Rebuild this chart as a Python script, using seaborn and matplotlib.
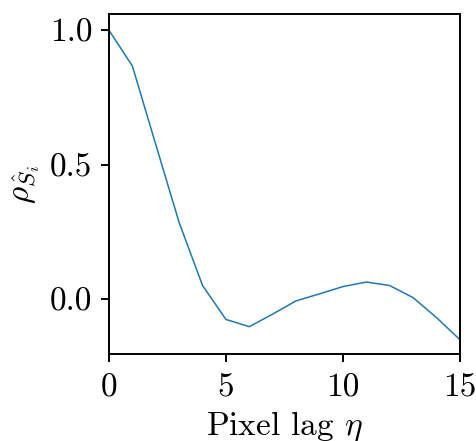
import matplotlib
matplotlib.use("Agg")
import matplotlib.pyplot as plt
import seaborn as sns
import pandas as pd

# Autocorrelation of the estimated signal versus pixel lag
lags = [0, 1, 2, 3, 4, 5, 6, 7, 8, 9, 10, 11, 12, 13, 14, 15]
rho = [1.0, 0.867, 0.575, 0.285, 0.051, -0.075, -0.102, -0.055, -0.006,
       0.020, 0.047, 0.064, 0.051, 0.006, -0.068, -0.150]
x_ticks = [0, 5, 10, 15]
y_ticks = [0.0, 0.5, 1.0]

sns.set_theme(style="ticks")
plt.rcParams.update({
    "font.family": "serif",
    "font.serif": ["cmr10"],
    "mathtext.fontset": "cm",
    "axes.formatter.use_mathtext": True,
    "axes.unicode_minus": False,
    "axes.linewidth": 1.4,
    "xtick.major.width": 1.4,
    "ytick.major.width": 1.4,
    "xtick.major.size": 5.8,
    "ytick.major.size": 5.8,
    "xtick.color": "black",
    "ytick.color": "black",
    "axes.edgecolor": "black",
    "text.color": "black",
    "axes.labelcolor": "black",
})

df = pd.DataFrame({"lag": lags, "rho": rho})

fig = plt.figure(figsize=(4.77, 4.41), dpi=100)
ax = fig.add_axes([0.2285, 0.197, 0.7355, 0.771])
sns.lineplot(data=df, x="lag", y="rho", ax=ax, color="#1f77b4", linewidth=1.1)

for s in ax.spines.values():
    s.set_visible(True)
    s.set_color("black")
    s.set_linewidth(1.4)

ax.set_xlim(0, 15)
ax.set_ylim(-0.204, 1.06)
ax.set_xticks(x_ticks)
ax.set_xticklabels([str(t) for t in x_ticks])
ax.set_yticks(y_ticks)
ax.set_yticklabels([f"{t:.1f}" for t in y_ticks])
ax.tick_params(axis="both", labelsize=24, colors="black")
ax.tick_params(axis="x", pad=8)
ax.tick_params(axis="y", pad=6)
ax.set_xlabel(r"Pixel lag $\eta$", fontsize=24, labelpad=5)
ax.set_ylabel(r"$\rho_{\hat{S}_i}$", fontsize=24, labelpad=6)

fig.savefig("out.png", dpi=100)
